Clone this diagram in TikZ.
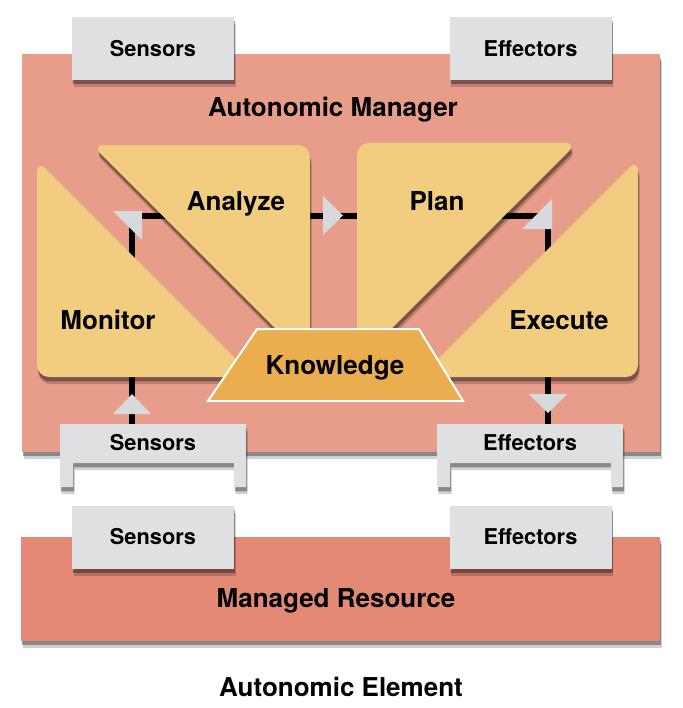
\documentclass[tikz,border=0pt]{standalone}
\usepackage{fontspec}
\setmainfont{TeX Gyre Heros}
\usepackage{xcolor}
\usepackage{tikz}
\usetikzlibrary{shadows}
\definecolor{managerPink}{RGB}{232,156,138}
\definecolor{resourcePink}{RGB}{228,137,117}
\definecolor{phaseYellow}{RGB}{242,205,128}
\definecolor{knowOrange}{RGB}{235,174,78}
\definecolor{portGray}{RGB}{222,224,225}
\definecolor{tipGray}{RGB}{215,218,221}
\newcommand{\bigFont}{\fontsize{13}{15}\selectfont\bfseries}
\newcommand{\smallFont}{\fontsize{10.9}{13}\selectfont\bfseries}
\tikzset{
  softShadow/.style={
    drop shadow={shadow xshift=0.8pt, shadow yshift=-3.6pt, opacity=0.18, fill=black},
    drop shadow={shadow xshift=0.5pt, shadow yshift=-2.2pt, opacity=0.35, fill=black}},
  manager/.style={fill=managerPink, softShadow},
  resource/.style={fill=resourcePink, softShadow},
  portFill/.style={fill=portGray, softShadow},
  port/.style={portFill, minimum width=81pt, minimum height=31.5pt, inner sep=0pt,
    font=\smallFont, text height=7.9pt, text depth=0pt},
  phase/.style={fill=phaseYellow, rounded corners=6pt, softShadow},
  knowledge/.style={fill=knowOrange, draw=white, line width=1pt, line join=miter},
  flowLine/.style={line width=3.2pt, line join=miter},
  flowTip/.style={fill=tipGray},
  bigLabel/.style={font=\bigFont, inner sep=0pt, text height=9.4pt, text depth=0pt},
  smallLabel/.style={font=\smallFont, inner sep=0pt, text height=7.9pt, text depth=0pt}
}
% bracket shaped port hanging below the manager
\newcommand{\DrawBracket}[2]{%
  \fill[portFill] (#1,424) -- (#2,424) -- (#2,487) -- ({#2-12},487) -- ({#2-12},463)
    -- ({#1+13},463) -- ({#1+13},487) -- (#1,487) -- cycle;
}

\begin{document}
\begin{tikzpicture}[x=0.5pt, y=-0.5pt]
  \useasboundingbox (0,0) rectangle (683,708);
  % autonomic manager
  \fill[manager] (22,54) rectangle (660,452);
  \node[port] (amSensors) at (153,48.5) {Sensors};
  \node[port] (amEffectors) at (530.5,48.5) {Effectors};
  \node[bigLabel] (manager) at (333,107) {Autonomic Manager};
  % loop connectors (the phases are drawn over their ends)
  \coordinate (monIn) at (132,300);
  \coordinate (anaIn) at (200,216);
  \coordinate (anaOut) at (300,216);
  \coordinate (plaIn) at (370,216);
  \coordinate (plaOut) at (470,216);
  \coordinate (exeIn) at (548,300);
  \coordinate (sensTop) at (132,430);
  \coordinate (effTop) at (548,430);
  \draw[flowLine] (monIn) |- (anaIn);
  \draw[flowLine] (anaOut) -- (plaIn);
  \draw[flowLine] (plaOut) -| (exeIn);
  \draw[flowLine] (sensTop) -- (monIn);
  \draw[flowLine] (exeIn) -- (effTop);
  % MAPE phases
  \fill[phase] (37,160) -- (37,377) -- (254,377) -- cycle;
  \fill[phase] (92,145) -- (310,145) -- (310,363) -- cycle;
  \fill[phase] (357,143) -- (577,143) -- (357,363) -- cycle;
  \fill[phase] (638,159) -- (638,377) -- (420,377) -- cycle;
  \node[bigLabel] (monitor) at (108,320) {Monitor};
  \node[bigLabel] (analyze) at (236,201) {Analyze};
  \node[bigLabel] (plan) at (437,201) {Plan};
  \node[bigLabel] (execute) at (559,320) {Execute};
  % knowledge
  \draw[knowledge] (257,329) -- (419,329) -- (463,401) -- (208,401) -- cycle;
  \node[bigLabel] (know) at (335,365) {Knowledge};
  % arrow tips
  \fill[flowTip] (113,211) -- (142,211) -- (142,240) -- cycle;
  \fill[flowTip] (323,196) -- (343,215.5) -- (323,235) -- cycle;
  \fill[flowTip] (522,229) -- (552,229) -- (552,199) -- cycle;
  \fill[flowTip] (113,414) -- (151,414) -- (132,394) -- cycle;
  \fill[flowTip] (529,394) -- (567,394) -- (548,413) -- cycle;
  % lower ports of the manager
  \DrawBracket{60}{246}
  \DrawBracket{437}{623}
  \node[smallLabel] (mgSensors) at (153,443) {Sensors};
  \node[smallLabel] (mgEffectors) at (530,443) {Effectors};
  % managed resource
  \fill[resource] (21,537) rectangle (660,641);
  \node[port] (mrSensors) at (153,537) {Sensors};
  \node[port] (mrEffectors) at (530.5,537) {Effectors};
  \node[bigLabel] (resource) at (336,598) {Managed Resource};
  \node[bigLabel] (element) at (341,687) {Autonomic Element};
\end{tikzpicture}
\end{document}
